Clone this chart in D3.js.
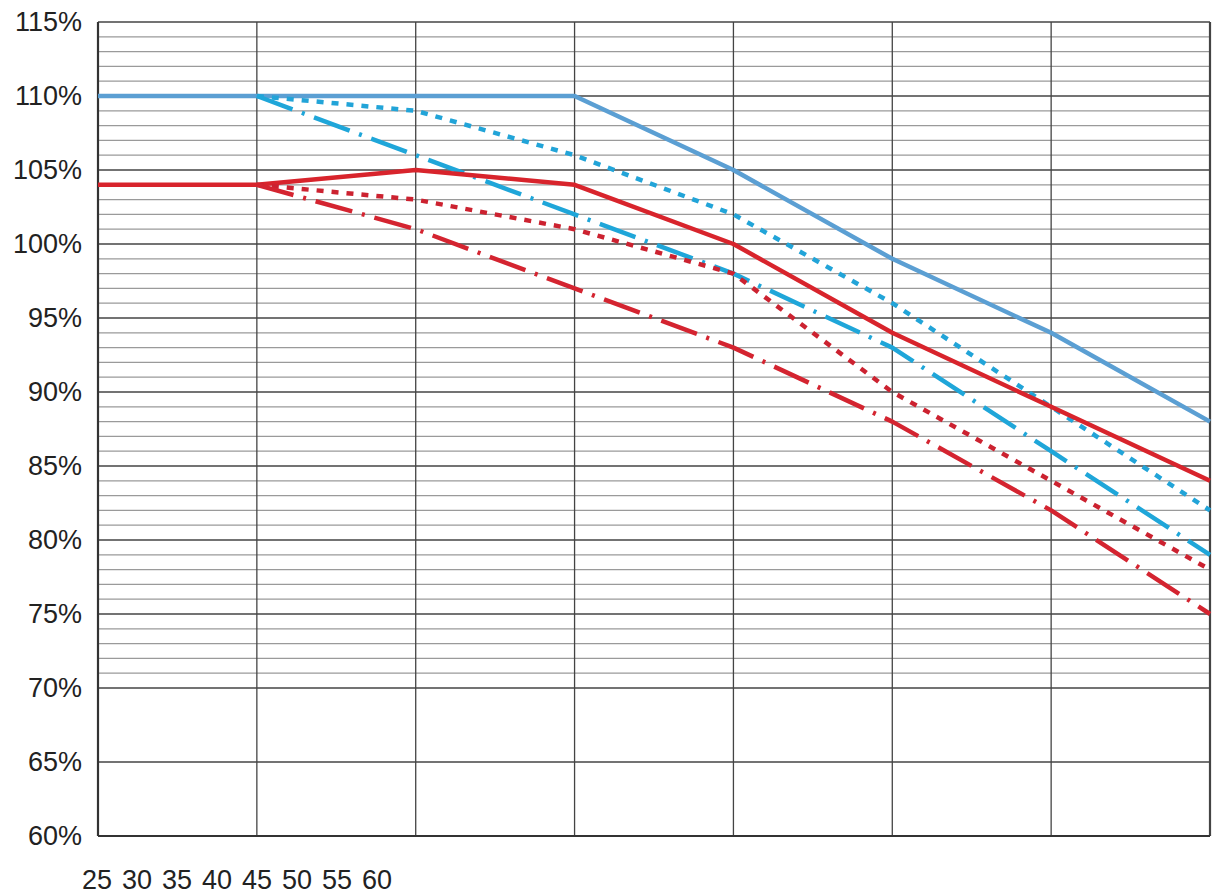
<!DOCTYPE html>
<html>
<head>
<meta charset="utf-8">
<script src="https://cdn.jsdelivr.net/npm/d3@7"></script>
<style>
  html, body { margin: 0; padding: 0; background: #fff; }
  svg { display: block; }
  text { font-family: "Liberation Sans", Arial, sans-serif; fill: #222; }
</style>
</head>
<body>
<svg id="chart" width="1214" height="896"></svg>
<script>
// ---- data ----
const temps = [25, 30, 35, 40, 45, 50, 55, 60];
const yTicks = [60, 65, 70, 75, 80, 85, 90, 95, 100, 105, 110, 115];
const blueSolid   = [110, 110, 110, 110, 105, 99, 94, 88];
const blueDotted  = [null, 110, 109, 106, 102, 96, 89, 82];
const blueDashDot = [null, 110, 106, 102, 98, 93, 86, 79];
const redSolid    = [104, 104, 105, 104, 100, 94, 89, 84];
const redDotted   = [null, 104, 103, 101, 98, 90, 84, 78];
const redDashDot  = [null, 104, 101, 97, 93, 88, 82, 75];

const series = [
  { values: blueSolid,   color: "#5b9fd3", dash: null },
  { values: blueDotted,  color: "#22a4d8", dash: "7,8" },
  { values: blueDashDot, color: "#1fa6d9", dash: "38,10,3,10" },
  { values: redSolid,    color: "#d8242c", dash: null },
  { values: redDotted,   color: "#cc2230", dash: "7,8" },
  { values: redDashDot,  color: "#d42430", dash: "38,10,3,10" }
];

// ---- layout ----
const plotL = 98, plotR = 1210, plotT = 22, plotB = 836;
const svg = d3.select("#chart");

const x = d3.scalePoint().domain(temps).range([plotL, plotR]);
const xLab = d3.scalePoint().domain(temps).range([97, 377]);
const y = d3.scaleLinear().domain([60, 115]).range([plotB, plotT]);

// minor gridlines (every 1% from 70 to 115)
const minor = d3.range(70, 116, 1).filter(v => v % 5 !== 0);
svg.append("g").selectAll("line").data(minor).join("line")
  .attr("x1", plotL).attr("x2", plotR)
  .attr("y1", d => y(d)).attr("y2", d => y(d))
  .attr("stroke", "#9a9a9a").attr("stroke-width", 1.2);

// major horizontal gridlines
svg.append("g").selectAll("line").data(yTicks.filter(v => v > 60)).join("line")
  .attr("x1", plotL).attr("x2", plotR)
  .attr("y1", d => y(d)).attr("y2", d => y(d))
  .attr("stroke", "#444").attr("stroke-width", 1.4);

// vertical gridlines
svg.append("g").selectAll("line").data(temps.slice(1)).join("line")
  .attr("x1", d => x(d)).attr("x2", d => x(d))
  .attr("y1", plotT).attr("y2", plotB)
  .attr("stroke", "#444").attr("stroke-width", d => d === 60 ? 2.2 : 1.3);

// axes frame (left and bottom)
svg.append("line").attr("x1", plotL).attr("x2", plotL).attr("y1", plotT).attr("y2", plotB)
  .attr("stroke", "#333").attr("stroke-width", 2.2);
svg.append("line").attr("x1", plotL).attr("x2", plotR).attr("y1", plotB).attr("y2", plotB)
  .attr("stroke", "#333").attr("stroke-width", 2.2);

// y tick labels
svg.append("g").selectAll("text").data(yTicks).join("text")
  .attr("x", 82).attr("y", d => y(d))
  .attr("text-anchor", "end").attr("dominant-baseline", "central")
  .attr("font-size", 27)
  .text(d => d + "%");

// x tick labels (compressed at the bottom-left, as in the reference)
svg.append("g").selectAll("text").data(temps).join("text")
  .attr("x", d => xLab(d)).attr("y", 880)
  .attr("text-anchor", "middle").attr("dominant-baseline", "central")
  .attr("font-size", 27)
  .text(d => d);

// lines
const line = d3.line()
  .defined(d => d.v !== null)
  .x(d => x(d.t)).y(d => y(d.v));

svg.append("g").selectAll("path").data(series).join("path")
  .attr("d", s => line(s.values.map((v, i) => ({ t: temps[i], v }))))
  .attr("fill", "none")
  .attr("stroke", s => s.color)
  .attr("stroke-width", 4.5)
  .attr("stroke-dasharray", s => s.dash)
  .attr("stroke-linejoin", "round");
</script>
</body>
</html>
